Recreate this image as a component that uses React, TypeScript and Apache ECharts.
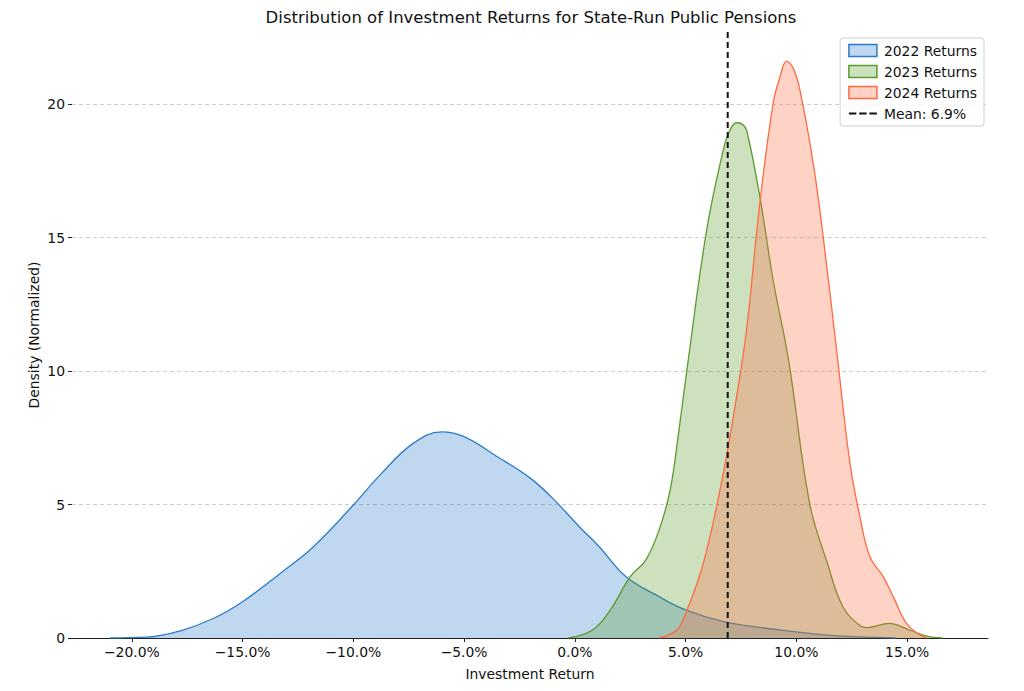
import React, { useEffect, useRef } from "react";
import * as echarts from "echarts";

// Investment return (%) and normalized density
const returns2022 = [-21.0, -19.3, -17.8, -16.3, -15.0, -13.3, -11.8, -10.0, -8.8, -7.3, -6.0, -5.0, -3.5, -2.0, -1.0, 0.2, 1.1, 2.3, 3.8, 5.0, 6.7, 8.4, 9.9, 11.4, 12.9, 14.5];
const density2022 = [0, 0.03, 0.27, 0.74, 1.36, 2.42, 3.42, 4.98, 6.1, 7.29, 7.72, 7.54, 6.79, 5.98, 5.23, 4.17, 3.42, 2.3, 1.55, 1.05, 0.61, 0.39, 0.24, 0.11, 0.04, 0];

const returns2023 = [-0.3, 0.8, 1.6, 2.5, 3.2, 3.8, 4.3, 4.7, 5.1, 5.95, 6.7, 7.0, 7.3, 7.55, 7.75, 8.35, 8.95, 9.65, 10.6, 11.4, 12.1, 12.9, 13.2, 14.2, 15.1, 15.9, 16.6];
const density2023 = [0, 0.3, 1.05, 2.3, 2.92, 4.04, 5.54, 7.79, 10.3, 15.28, 18.28, 19.03, 19.3, 19.25, 19.03, 16.53, 13.41, 10.4, 5.04, 2.8, 1.17, 0.45, 0.39, 0.55, 0.3, 0.07, 0];

const returns2024 = [3.8, 4.6, 5.0, 5.8, 6.7, 7.3, 7.75, 8.35, 8.95, 9.26, 9.56, 9.86, 10.16, 10.76, 11.21, 11.8, 12.42, 12.87, 13.32, 13.92, 14.37, 14.97, 15.58, 15.9];
const density2024 = [0, 0.3, 0.92, 2.8, 6.17, 9.04, 11.54, 16.28, 20.03, 21.02, 21.61, 21.34, 20.52, 17.78, 15.03, 10.9, 6.54, 4.54, 3.04, 2.3, 1.55, 0.55, 0.11, 0];

const meanReturn = 6.9;
const xTicks = [-20, -15, -10, -5, 0, 5, 10, 15];
const yTicks = [0, 5, 10, 15, 20];
const seriesNames = ["2022 Returns", "2023 Returns", "2024 Returns"];
const meanLabel = "Mean: 6.9%";

const X_MIN = -22.7;
const X_MAX = 18.65;
const Y_MAX = 22.7;

const lineColors = ["#2a7cc9", "#5c9a2c", "#ff6a42"];
const FONT = "DejaVu Sans";
const FS = 13.9;

const pairs = (xs: number[], ys: number[]) => xs.map((x, i) => [x, ys[i]]);

const fmtPct = (v: number) => (v < 0 ? "\u2212" : "") + Math.abs(v).toFixed(1) + "%";

export default function App() {
  const ref = useRef<HTMLDivElement>(null);
  useEffect(() => {
    if (!ref.current) return;
    const chart = echarts.init(ref.current, undefined, { renderer: "svg" });
    const data = [
      pairs(returns2022, density2022),
      pairs(returns2023, density2023),
      pairs(returns2024, density2024),
    ];
    const areaSeries = seriesNames.map((name, i) => ({
      name,
      type: "line",
      data: data[i],
      smooth: 0.4,
      showSymbol: false,
      symbol: "none",
      lineStyle: { color: lineColors[i], width: 1.3 },
      itemStyle: { color: lineColors[i] },
      areaStyle: { color: lineColors[i], opacity: 0.3 },
      z: 2 + i,
    }));
    chart.setOption({
      animation: false,
      backgroundColor: "#ffffff",
      textStyle: { fontFamily: FONT },
      title: {
        text: "Distribution of Investment Returns for State-Run Public Pensions",
        left: 531,
        top: 9,
        padding: 0,
        textAlign: "center",
        textStyle: { fontFamily: FONT, fontSize: 16.5, fontWeight: "normal", color: "#111" },
      },
      legend: {
        orient: "vertical",
        right: 40,
        top: 38,
        padding: [5.5, 7, 5.5, 8],
        itemWidth: 28,
        itemHeight: 12,
        itemGap: 7,
        borderColor: "#d0d0d0",
        borderWidth: 1,
        borderRadius: 3,
        backgroundColor: "rgba(255,255,255,0.8)",
        align: "left",
        textStyle: { fontFamily: FONT, fontSize: FS, color: "#111", padding: [0, 0, 0, 2] },
        data: [
          ...seriesNames.map((name, i) => ({
            name,
            icon: "rect",
            itemStyle: { color: echarts.color.modifyAlpha(lineColors[i], 0.3), borderColor: lineColors[i], borderWidth: 1.5 },
          })),
          {
            name: meanLabel,
            icon: "path://M0,0H8V2H0Z M11,0H19V2H11Z M22,0H30V2H22Z",
            itemStyle: { color: "#111" },
          },
        ],
      },
      grid: { left: 72, right: 36, top: 32, bottom: 53, containLabel: false },
      xAxis: {
        type: "value",
        min: X_MIN,
        max: X_MAX,
        name: "Investment Return",
        nameLocation: "middle",
        nameGap: 29,
        nameMoveOverlap: false,
        nameTextStyle: { fontFamily: FONT, fontSize: FS, color: "#111" },
        axisLine: { show: true, lineStyle: { color: "#222", width: 1.2 } },
        axisTick: { show: true, length: 4, customValues: xTicks, lineStyle: { color: "#222" } },
        axisLabel: {
          customValues: xTicks,
          formatter: (v: number) => fmtPct(v),
          fontFamily: FONT,
          fontSize: FS,
          color: "#111",
          margin: 7,
        },
        splitLine: { show: false },
      },
      yAxis: {
        type: "value",
        min: 0,
        max: Y_MAX,
        name: "Density (Normalized)",
        nameLocation: "middle",
        nameGap: 31,
        nameMoveOverlap: false,
        nameTextStyle: { fontFamily: FONT, fontSize: FS, color: "#111" },
        axisLine: { show: false, onZero: false },
        axisTick: { show: true, length: 4, customValues: yTicks, lineStyle: { color: "#222" } },
        axisLabel: { customValues: yTicks, fontFamily: FONT, fontSize: FS, color: "#111", margin: 7 },
        splitLine: { show: false },
      },
      series: [
        ...areaSeries,
        {
          name: meanLabel,
          type: "line",
          data: [
            [meanReturn, 0],
            [meanReturn, Y_MAX],
          ],
          showSymbol: false,
          symbol: "none",
          lineStyle: { color: "#111", width: 2, type: [6, 4] },
          itemStyle: { color: "#111" },
          z: 10,
          markLine: {
            silent: true,
            symbol: "none",
            label: { show: false },
            lineStyle: { color: "#cccccc", type: [4, 3], width: 1 },
            data: yTicks.filter((t) => t > 0).map((t) => ({ yAxis: t })),
            z: 1,
          },
        },
      ],
    });
    return () => chart.dispose();
  }, []);
  return (
    <div
      ref={ref}
      style={{ position: "absolute", left: 0, top: 0, width: 1024, height: 691 }}
    />
  );
}
